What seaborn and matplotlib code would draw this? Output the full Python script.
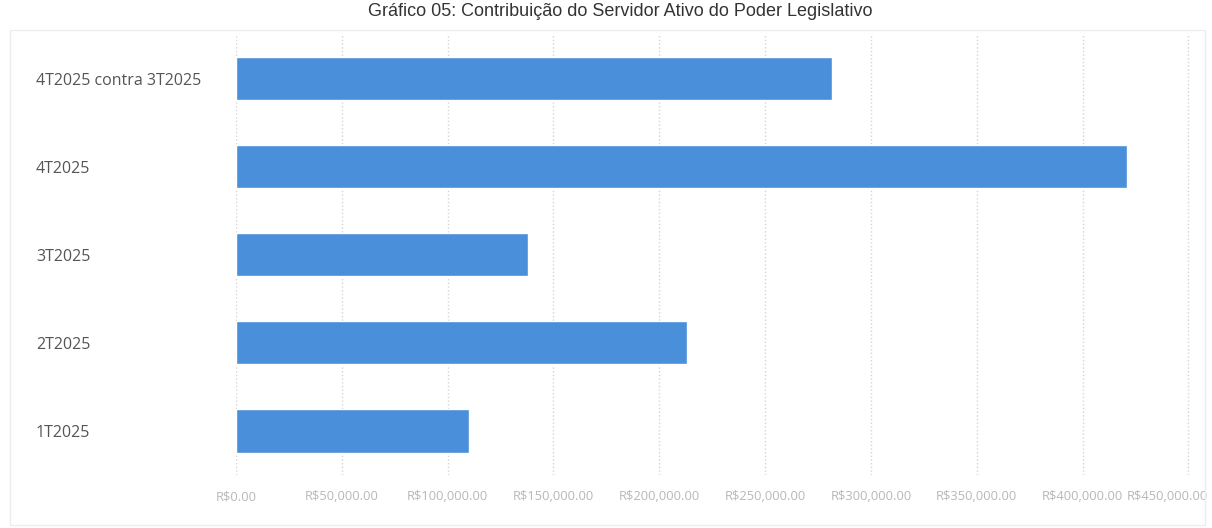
import matplotlib.pyplot as plt
import matplotlib.transforms as mtransforms
from matplotlib.patches import Rectangle
import seaborn as sns
import pandas as pd

# Values (R$)
categories = ['4T2025 contra 3T2025', '4T2025', '3T2025', '2T2025', '1T2025']
values = [281500, 420900, 137900, 213000, 110100]
x_ticks = [0, 50000, 100000, 150000, 200000, 250000, 300000, 350000, 400000, 450000]
title = 'Gráfico 05: Contribuição do Servidor Ativo do Poder Legislativo'

sns.set_theme(style="white")
plt.rcParams['font.family'] = ['Open Sans', 'DejaVu Sans']

df = pd.DataFrame({'periodo': categories, 'valor': values})

fig = plt.figure(figsize=(12.12, 5.28), dpi=100)
ax = fig.add_axes([0.1947, 0.1004, 0.7946, 0.8343])

sns.barplot(data=df, y='periodo', x='valor', color='#4A8FD9', saturation=1,
            width=0.49, orient='h', ax=ax, zorder=2)

ax.set_xlim(0, 455000)
ax.set_ylim(4.5, -0.5)
ax.set_xticks(x_ticks, [f'R${v:,.2f}' for v in x_ticks])
ax.grid(axis='x', linestyle=':', color='#d4d4d4', linewidth=1, zorder=0)
ax.set_xlabel('')
ax.set_ylabel('')
for s in ax.spines.values():
    s.set_visible(False)

ax.tick_params(axis='x', length=0, pad=11, labelsize=9.3, labelcolor='#b8b8b8')
ax.tick_params(axis='y', length=0, pad=144, labelsize=11.5, labelcolor='#555555')
for lbl in ax.get_yticklabels():
    lbl.set_horizontalalignment('left')

# keep the last money label inside the picture
last = ax.get_xticklabels()[-1]
last.set_horizontalalignment('right')
last.set_transform(last.get_transform() +
                   mtransforms.ScaledTranslation(0.2, 0, fig.dpi_scale_trans))

# faint outer frame of the original report
fig.patches.append(Rectangle((10 / 1212, 3 / 528), 1195 / 1212, 495 / 528,
                             transform=fig.transFigure, fill=False,
                             edgecolor='#ededed', linewidth=1, zorder=0))

fig.text(0.512, 1 - 12 / 528, title, ha='center', va='center', fontsize=13,
         color='#333333', family=['Liberation Sans', 'DejaVu Sans'])

plt.savefig('out.png', dpi=100)
plt.close()
